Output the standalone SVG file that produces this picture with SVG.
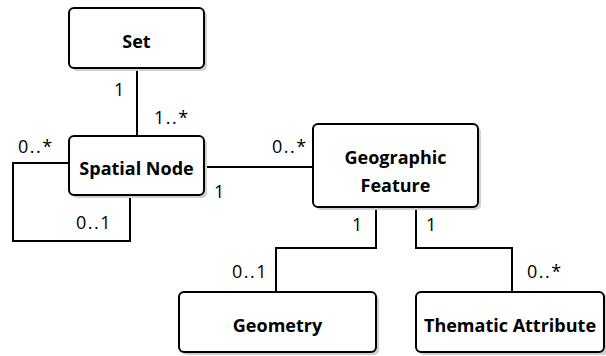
<svg xmlns="http://www.w3.org/2000/svg" width="606" height="356" viewBox="0 0 606 356">
<style>
.box{fill:#fff;stroke:#000;stroke-width:2}
.sh{fill:#d0d0d0}
.t{font-family:"Open Sans","Liberation Sans",sans-serif;font-weight:bold;font-size:18px;text-anchor:middle;fill:#000}
.l{font-family:"Open Sans","Liberation Sans",sans-serif;font-size:18px;letter-spacing:1.5px;fill:#000}
.c{fill:none;stroke:#000;stroke-width:2}
</style>
<rect width="606" height="356" fill="#fff"/>
<g id="connectors">
<path class="c" d="M137 68 V136"/>
<path class="c" d="M69 163 H13 V241 H130 V195"/>
<path class="c" d="M204 167 H313"/>
<path class="c" d="M376 207 V248 H276 V292"/>
<path class="c" d="M416 207 V248 H512 V292"/>
</g>
<g id="labels">
<text class="l" x="114" y="96">1</text>
<text class="l" x="154" y="124">1..*</text>
<text class="l" x="18" y="153">0..*</text>
<text class="l" x="76" y="229">0..1</text>
<text class="l" x="214" y="198">1</text>
<text class="l" x="272" y="153">0..*</text>
<text class="l" x="352" y="231">1</text>
<text class="l" x="426" y="231">1</text>
<text class="l" x="232" y="278">0..1</text>
<text class="l" x="527" y="278">0..*</text>
</g>
<g id="set">
<rect class="sh" x="72" y="11" width="135" height="60" rx="5"/>
<rect class="box" x="69" y="8" width="135" height="60" rx="5"/>
<text class="t" x="136.5" y="48">Set</text>
</g>
<g id="spatial-node">
<rect class="sh" x="72" y="139" width="135" height="59" rx="5"/>
<rect class="box" x="69" y="136" width="135" height="59" rx="5"/>
<text class="t" x="136.5" y="175">Spatial Node</text>
</g>
<g id="geographic-feature">
<rect class="sh" x="316" y="127" width="165" height="83" rx="5"/>
<rect class="box" x="313" y="124" width="165" height="83" rx="5"/>
<text class="t" x="395.5" y="164">Geographic</text>
<text class="t" x="395.5" y="192">Feature</text>
</g>
<g id="geometry">
<rect class="sh" x="182" y="295" width="197" height="60" rx="5"/>
<rect class="box" x="179" y="292" width="197" height="60" rx="5"/>
<text class="t" x="277.5" y="332">Geometry</text>
</g>
<g id="thematic-attribute">
<rect class="sh" x="419" y="295" width="190" height="60" rx="5"/>
<rect class="box" x="416" y="292" width="188" height="60" rx="5"/>
<text class="t" x="510" y="332">Thematic Attribute</text>
</g>
</svg>
